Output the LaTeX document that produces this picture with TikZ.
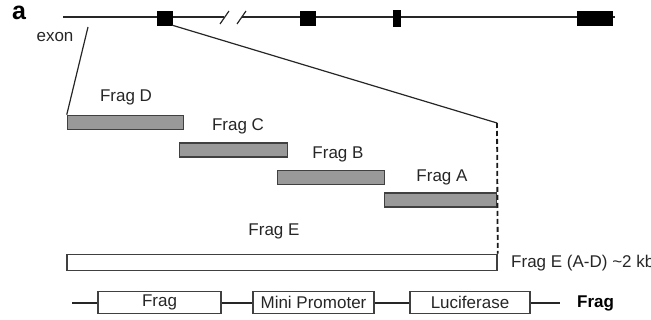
\documentclass[tikz,border=0pt]{standalone}
\usepackage{fontspec}
\setmainfont{Liberation Sans}
\begin{document}
\begin{tikzpicture}[x=1pt,y=-1pt,
  every node/.style={font=\fontsize{17}{20}\selectfont, inner sep=0pt, text=black!85},
  exonbox/.style={draw=black, fill=black, minimum height=14, rectangle},
  fragbox/.style={draw=black!75, line width=1.5pt, fill=black!40, minimum height=14, rectangle},
  ebox/.style={draw=black!75, line width=1.5pt, fill=white, minimum height=16, rectangle},
  partbox/.style={draw=black!75, line width=1.1pt, fill=white, minimum height=22, rectangle},
  gene/.style={line width=2pt, draw=black!85},
  thin/.style={line width=1.2pt, draw=black!85}]
\useasboundingbox (0,0) rectangle (651,320);
% panel letter
\node[font=\fontsize{25}{28}\selectfont\bfseries, text=black] (lbl) at (19,13) {a};
\node (exlbl) at (55,37) {exon};
% gene line with break
\coordinate (gL) at (63,17.5);
\coordinate (gB1) at (224,17.5);
\coordinate (gB2) at (242,17.5);
\coordinate (gR) at (615,17.5);
\draw[gene] (gL) -- (gB1);
\draw[gene] (gB2) -- (gR);
\coordinate (s1a) at (220,24); \coordinate (s1b) at (229,11);
\coordinate (s2a) at (237,24); \coordinate (s2b) at (246,11);
\draw[thin] (s1a) -- (s1b);
\draw[thin] (s2a) -- (s2b);
% exons
\node[exonbox, minimum width=15] (ex1) at (164.5,18) {};
\node[exonbox, minimum width=15] (ex2) at (308,18) {};
\node[exonbox, minimum width=7, minimum height=16] (ex3) at (397,18) {};
\node[exonbox, minimum width=35] (ex4) at (595,18) {};
% fragments
\node[fragbox, minimum width=116] (fD) at (125.5,122.5) {};
\node[fragbox, minimum width=108] (fC) at (233.5,150) {};
\node[fragbox, minimum width=107] (fB) at (331,177.5) {};
\node[fragbox, minimum width=112] (fA) at (440.5,200) {};
\node[ebox, minimum width=430] (fE) at (282,262.5) {};
\node (lD) at (126,97) {Frag D};
\node (lC) at (238,126) {Frag C};
\node (lB) at (338,154) {Frag B};
\node (lA) at (442,177) {Frag A};
\node (lE) at (274,231) {Frag E};
\node[anchor=west] (lE2) at (511,263) {Frag E (A-D) \textasciitilde2 kb};
% zoom connectors
\coordinate (exl) at (88,27);
\coordinate (dtop) at (497,123);
\draw[thin] (exl) -- (fD.north west);
\draw[thin] (ex1.south east) -- (dtop);
\draw[line width=1.8pt, dash pattern=on 5pt off 3pt, draw=black!90] (dtop) -- (fE.north east);
% construct row
\coordinate (cL) at (72,303);
\coordinate (cR) at (560,303);
\draw[line width=1.2pt, draw=black!85] (cL) -- (cR);
\node[partbox, minimum width=123] (p1) at (159.5,302.5) {Frag};
\node[partbox, minimum width=121] (p2) at (313.5,302.5) {Mini Promoter};
\node[partbox, minimum width=120] (p3) at (470,302.5) {Luciferase};
\node[font=\fontsize{17}{20}\selectfont\bfseries, anchor=west, text=black] (p4) at (577,303) {Frag};
\end{tikzpicture}
\end{document}
